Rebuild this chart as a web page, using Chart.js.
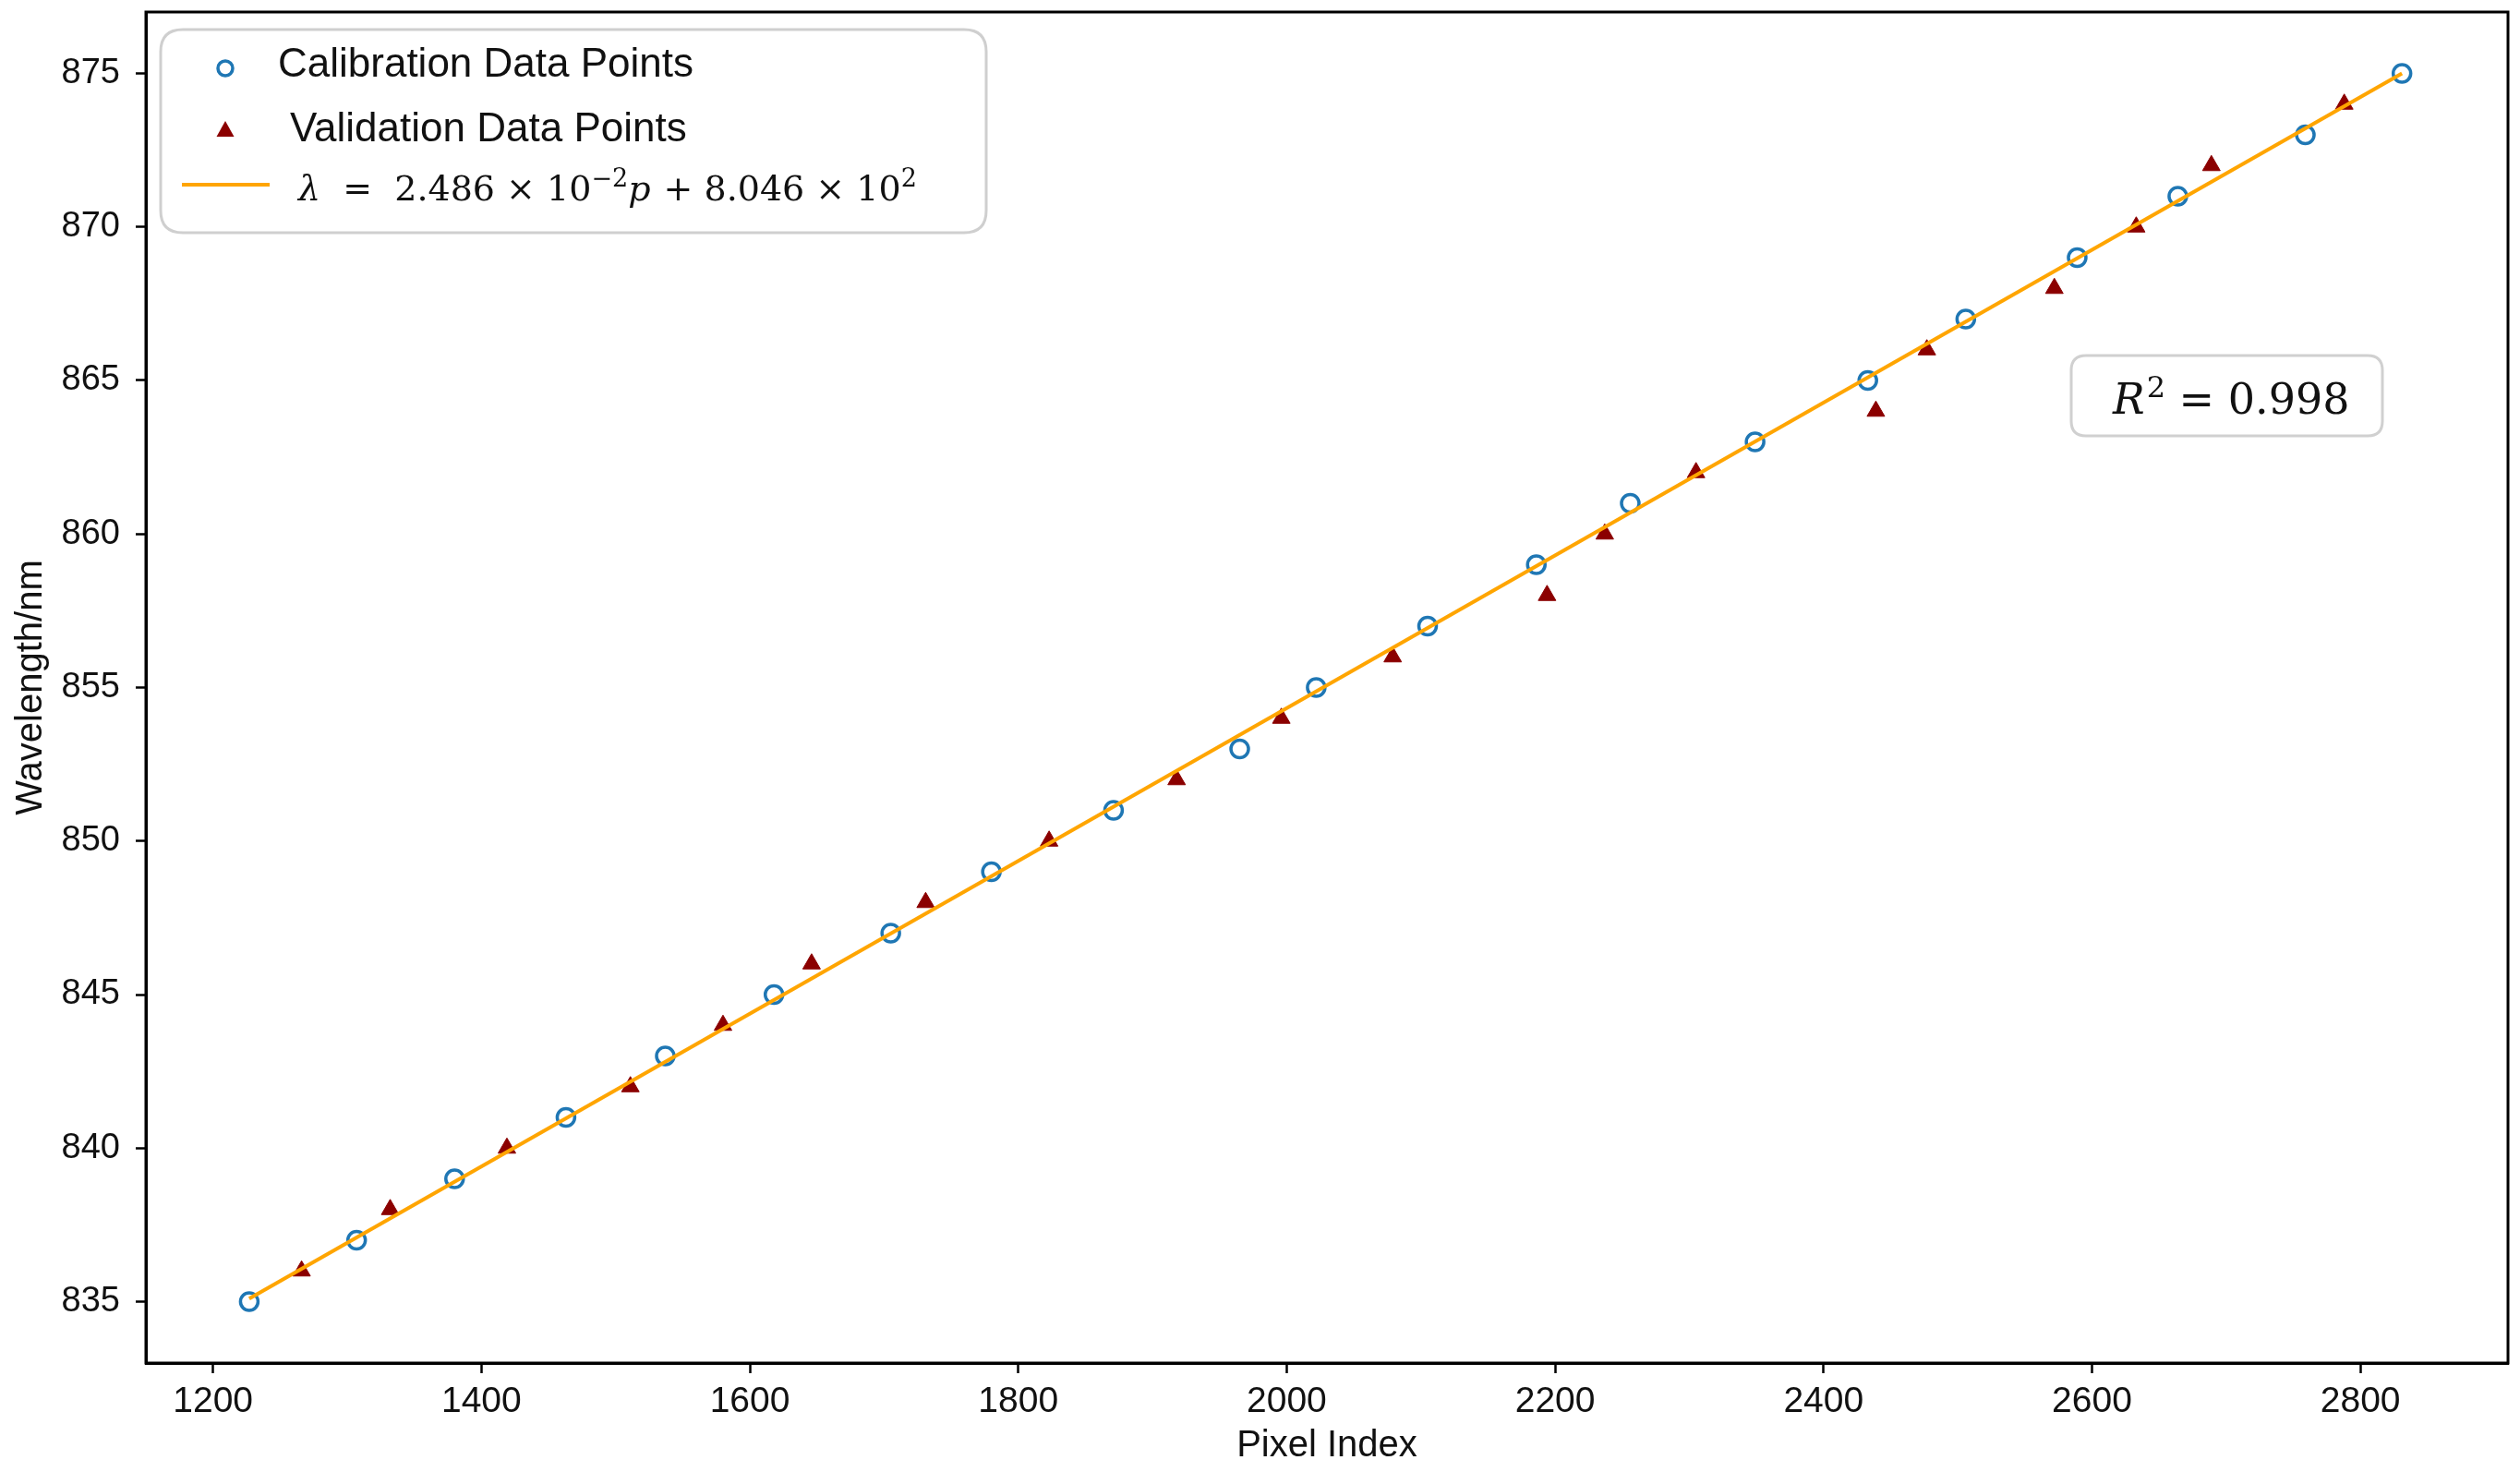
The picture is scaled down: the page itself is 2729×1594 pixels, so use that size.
<!DOCTYPE html>
<html>
<head>
<meta charset="utf-8">
<script src="https://cdn.jsdelivr.net/npm/chart.js@4.4.1/dist/chart.umd.min.js"></script>
<style>
  html, body { margin: 0; padding: 0; background: #fff; }
  #chart { display: block; }
</style>
</head>
<body>
<canvas id="chart" width="2729" height="1594" style="width:2729px;height:1594px"></canvas>
<script>
// calibration data (blue open circles)
const calPixel = [1227, 1307, 1380, 1463, 1537, 1618, 1705, 1780, 1871, 1965, 2022, 2105, 2186, 2256, 2349, 2433, 2506, 2589, 2664, 2759, 2831];
const calWave  = [835, 837, 839, 841, 843, 845, 847, 849, 851, 853, 855, 857, 859, 861, 863, 865, 867, 869, 871, 873, 875];

// validation data (dark red triangles)
const valPixel = [1266, 1332, 1419, 1511, 1580, 1646, 1731, 1823, 1918, 1996, 2079, 2194, 2237, 2305, 2439, 2477, 2572, 2633, 2689, 2788];
const valWave  = [836, 838, 840, 842, 844, 846, 848, 850, 852, 854, 856, 858, 860, 862, 864, 866, 868, 870, 872, 874];

// fitted line, read at its two ends
const fitPixel = [1227, 2831];
const fitWave  = [835.1, 875.0];

const xTicks = [1200, 1400, 1600, 1800, 2000, 2200, 2400, 2600, 2800];
const yTicks = [835, 840, 845, 850, 855, 860, 865, 870, 875];

const SANS = "'Liberation Sans', Arial, sans-serif";
const SERIF = "'DejaVu Serif', serif";
const TEXT = '#111';

function toPoints(xs, ys) {
    return xs.map((x, i) => ({ x: x, y: ys[i] }));
}

function roundRect(ctx, x, y, w, h, r) {
    ctx.beginPath();
    ctx.moveTo(x + r, y);
    ctx.lineTo(x + w - r, y);
    ctx.quadraticCurveTo(x + w, y, x + w, y + r);
    ctx.lineTo(x + w, y + h - r);
    ctx.quadraticCurveTo(x + w, y + h, x + w - r, y + h);
    ctx.lineTo(x + r, y + h);
    ctx.quadraticCurveTo(x, y + h, x, y + h - r);
    ctx.lineTo(x, y + r);
    ctx.quadraticCurveTo(x, y, x + r, y);
    ctx.closePath();
}

// draw a run of text pieces one after another, some raised as superscripts
function drawRun(ctx, x, baseline, pieces) {
    pieces.forEach(p => {
        ctx.font = p.font;
        ctx.fillText(p.text, x, baseline - (p.rise || 0));
        x += ctx.measureText(p.text).width + (p.gap || 0);
    });
}

// top and right spines
const framePlugin = {
    id: 'frame',
    afterDatasetsDraw(chart) {
        const { ctx, chartArea: a } = chart;
        ctx.save();
        ctx.strokeStyle = '#000';
        ctx.lineWidth = 3;
        ctx.strokeRect(a.left, a.top, a.right - a.left, a.bottom - a.top);
        ctx.restore();
    }
};

// legend box and R^2 box, matplotlib style
const boxesPlugin = {
    id: 'boxes',
    afterDraw(chart) {
        const ctx = chart.ctx;
        ctx.save();

        // legend
        roundRect(ctx, 174, 32, 894, 220, 24);
        ctx.fillStyle = 'rgba(255,255,255,0.85)';
        ctx.fill();
        ctx.strokeStyle = '#cfcfcf';
        ctx.lineWidth = 3;
        ctx.stroke();

        // circle marker
        ctx.beginPath();
        ctx.arc(244, 74, 8, 0, Math.PI * 2);
        ctx.strokeStyle = '#1f77b4';
        ctx.lineWidth = 3.5;
        ctx.stroke();

        // triangle marker
        ctx.beginPath();
        ctx.moveTo(244, 131);
        ctx.lineTo(253.5, 148);
        ctx.lineTo(234.5, 148);
        ctx.closePath();
        ctx.fillStyle = '#8b0000';
        ctx.fill();

        // line marker
        ctx.beginPath();
        ctx.moveTo(197, 200);
        ctx.lineTo(292, 200);
        ctx.strokeStyle = '#ffa500';
        ctx.lineWidth = 4;
        ctx.stroke();

        ctx.fillStyle = TEXT;
        ctx.textBaseline = 'alphabetic';
        ctx.textAlign = 'left';
        ctx.font = '44px ' + SANS;
        ctx.fillText('Calibration Data Points', 301, 83);
        ctx.fillText('Validation Data Points', 314, 153);

        const big = '38px ' + SERIF;
        const bigIt = 'italic 38px ' + SERIF;
        const small = '27px ' + SERIF;
        drawRun(ctx, 323, 217, [
            { text: 'λ', font: bigIt },
            { text: '  =  2.486 × 10', font: big },
            { text: '−2', font: small, rise: 15 },
            { text: 'p', font: bigIt, gap: 2 },
            { text: ' + 8.046 × 10', font: big },
            { text: '2', font: small, rise: 15 }
        ]);

        // R^2 box
        roundRect(ctx, 2243, 385, 337, 87, 16);
        ctx.fillStyle = 'rgba(255,255,255,0.9)';
        ctx.fill();
        ctx.strokeStyle = '#d0d0d0';
        ctx.lineWidth = 3;
        ctx.stroke();

        ctx.fillStyle = TEXT;
        drawRun(ctx, 2288, 448, [
            { text: 'R', font: 'italic 46px ' + SERIF, gap: 2 },
            { text: '2', font: '32px ' + SERIF, rise: 18 },
            { text: ' = 0.998', font: '46px ' + SERIF }
        ]);

        ctx.restore();
    }
};

const ctx = document.getElementById('chart').getContext('2d');
new Chart(ctx, {
    type: 'scatter',
    data: {
        datasets: [
            {
                label: 'λ = 2.486 × 10⁻²p + 8.046 × 10²',
                type: 'line',
                data: toPoints(fitPixel, fitWave),
                borderColor: '#ffa500',
                borderWidth: 4,
                pointRadius: 0,
                fill: false,
                order: 0
            },
            {
                label: 'Calibration Data Points',
                data: toPoints(calPixel, calWave),
                pointStyle: 'circle',
                pointRadius: 9.5,
                borderColor: '#1f77b4',
                backgroundColor: 'rgba(0,0,0,0)',
                borderWidth: 3.5,
                order: 2
            },
            {
                label: 'Validation Data Points',
                data: toPoints(valPixel, valWave),
                pointStyle: 'triangle',
                pointRadius: 11,
                borderColor: '#8b0000',
                backgroundColor: '#8b0000',
                borderWidth: 1,
                order: 1
            }
        ]
    },
    options: {
        responsive: false,
        devicePixelRatio: 1,
        animation: false,
        layout: { padding: { top: 13, right: 11, left: 0, bottom: 0 } },
        plugins: {
            legend: { display: false },
            tooltip: { enabled: false }
        },
        scales: {
            x: {
                type: 'linear',
                min: 1150,
                max: 2910,
                afterBuildTicks: s => { s.ticks = xTicks.map(v => ({ value: v })); },
                afterFit: s => { s.height = 118; s.paddingLeft = 0; s.paddingRight = 0; },
                grid: { drawOnChartArea: false, tickLength: 11, tickWidth: 2.5, tickColor: '#000' },
                border: { color: '#000', width: 3 },
                ticks: { font: { family: SANS, size: 39 }, color: TEXT, padding: 8, maxRotation: 0, autoSkip: false, callback: v => String(v) },
                title: { display: true, text: 'Pixel Index', font: { family: SANS, size: 40 }, color: TEXT, padding: { top: 0, bottom: 4 } }
            },
            y: {
                type: 'linear',
                min: 833,
                max: 877,
                afterBuildTicks: s => { s.ticks = yTicks.map(v => ({ value: v })); },
                afterFit: s => { s.width = 158; s.paddingTop = 0; s.paddingBottom = 0; },
                grid: { drawOnChartArea: false, tickLength: 11, tickWidth: 2.5, tickColor: '#000' },
                border: { color: '#000', width: 3 },
                ticks: { font: { family: SANS, size: 38 }, color: TEXT, padding: 17, autoSkip: false, callback: v => String(v) },
                title: { display: true, text: 'Wavelength/nm', font: { family: SANS, size: 40 }, color: TEXT, padding: { top: 10, bottom: 0 } }
            }
        }
    },
    plugins: [framePlugin, boxesPlugin]
});
</script>
</body>
</html>
